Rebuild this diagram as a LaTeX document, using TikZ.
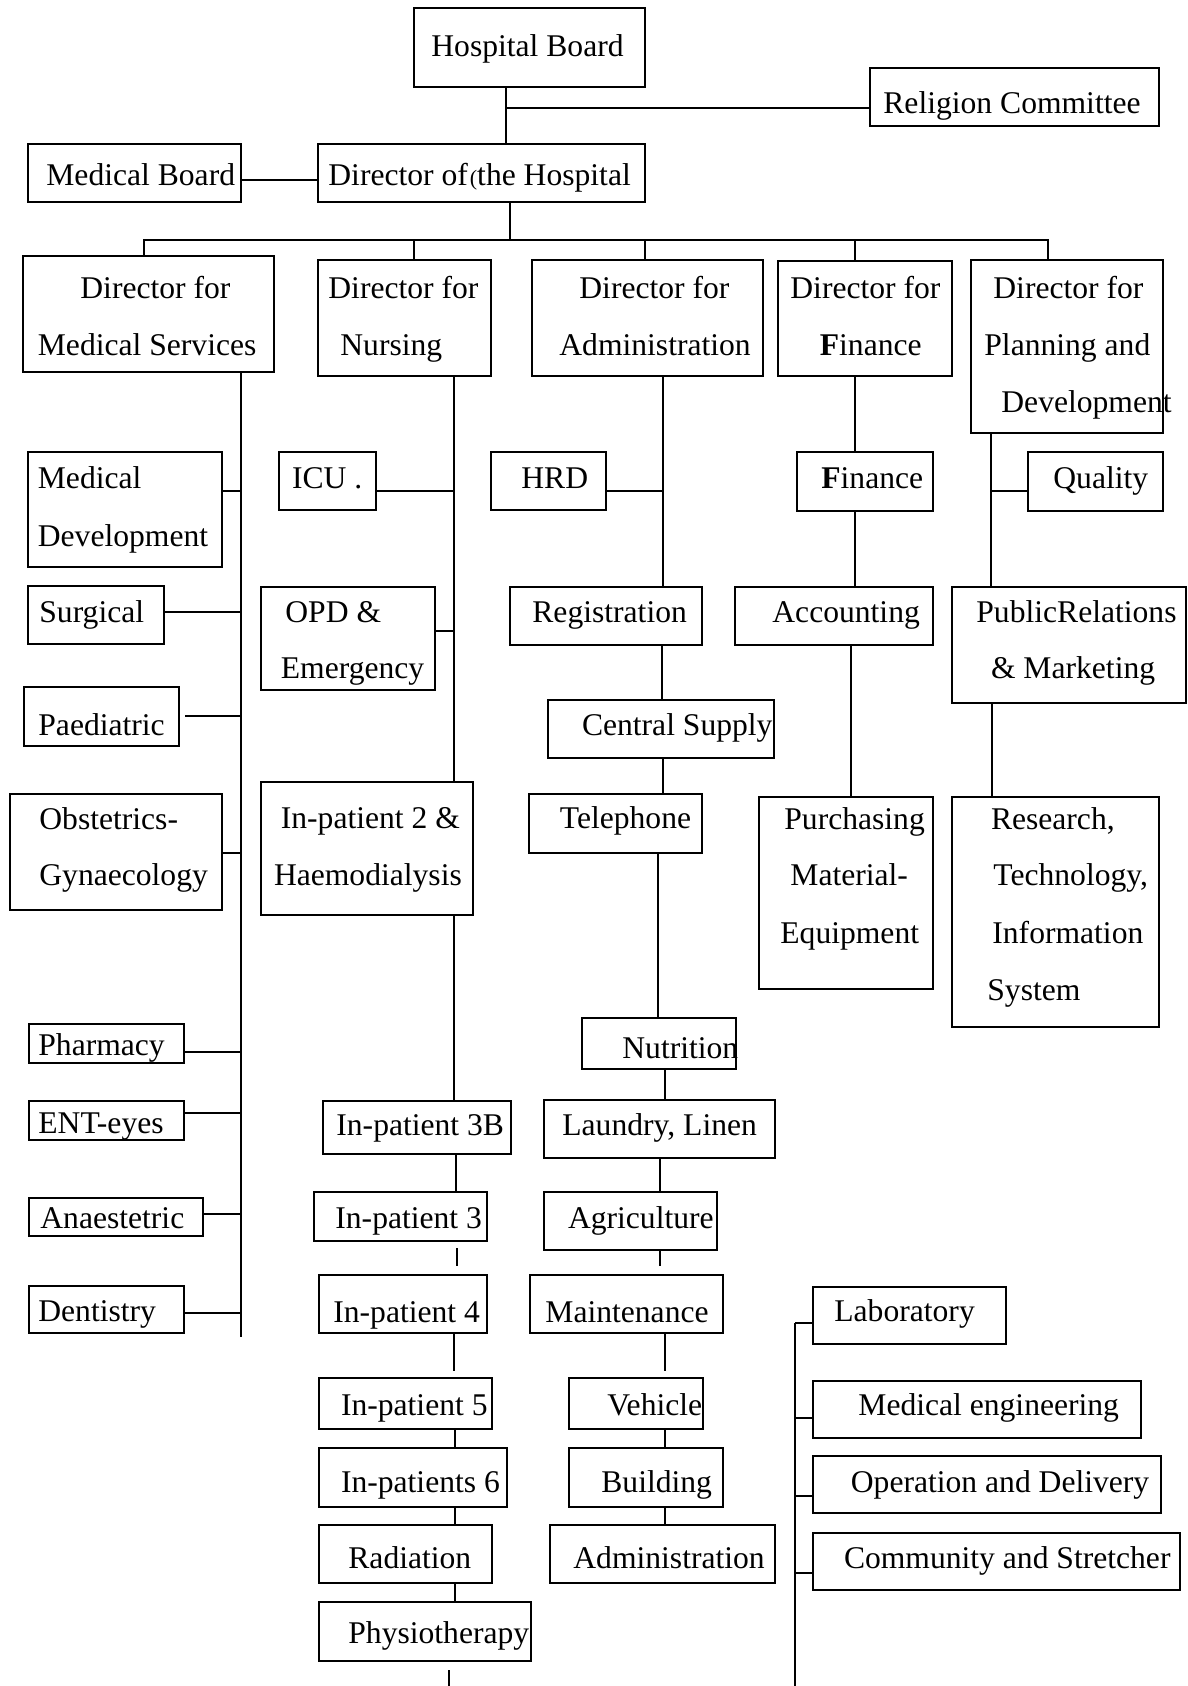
\documentclass[tikz,border=0pt]{standalone}
\usepackage{fontspec}
\setmainfont{Liberation Serif}
% \orgbox{name}{x1}{y1}{x2}{y2}: an empty framed box between two corners (units: px)
\newcommand\orgbox[5]{%
  \pgfmathsetmacro\obw{(#4-#2)*0.5}%
  \pgfmathsetmacro\obh{(#5-#3)*0.5}%
  \node[unitbox, minimum width=\obw pt, minimum height=\obh pt] (#1) at ({(#2+#4)/2},{(#3+#5)/2}) {};%
}
\begin{document}
\begin{tikzpicture}[x=0.5pt, y=-0.5pt,
  unitbox/.style={draw, line width=1.2pt, inner sep=0pt},
  lbl/.style={anchor=base west, inner sep=0pt, font=\fontsize{15.8pt}{19pt}\selectfont},
  wire/.style={line width=1.2pt}]
\useasboundingbox (0,0) rectangle (1188,1686);

% ---------- top levels ----------
\orgbox{hb}{414}{8}{645}{87}
\orgbox{rc}{870}{68}{1159}{126}
\orgbox{mb}{28}{144}{241}{202}
\orgbox{dh}{318}{144}{645}{202}
\node[lbl] (hb-t) at (431,57) {Hospital Board};
\node[lbl] (rc-t) at (883,113) {Religion Committee};
\node[lbl] (mb-t) at (46,185) {Medical Board};
\node[lbl] (dh-t) at (328,185) {Director of\hspace{1pt}{\fontsize{11pt}{11pt}\selectfont(}the Hospital};

% ---------- directors ----------
\orgbox{dms}{23}{256}{274}{372}
\orgbox{dn}{318}{260}{491}{376}
\orgbox{da}{532}{260}{763}{376}
\orgbox{df}{778}{261}{952}{376}
\orgbox{dp}{971}{260}{1163}{433}
\node[lbl] (dms-1) at (80,298) {Director for};
\node[lbl] (dms-2) at (37.5,355) {Medical Services};
\node[lbl] (dn-1) at (328,298) {Director for};
\node[lbl] (dn-2) at (340,355) {Nursing};
\node[lbl] (da-1) at (579,298) {Director for};
\node[lbl] (da-2) at (559,355) {Administration};
\node[lbl] (df-1) at (790,298) {Director for};
\node[lbl] (df-2) at (819.5,355) {\textbf{F}inance};
\node[lbl] (dp-1) at (993,298) {Director for};
\node[lbl] (dp-2) at (984,355) {Planning and};
\node[lbl] (dp-3) at (1001,412) {Development};

% ---------- medical services ----------
\orgbox{mdev}{28}{452}{222}{567}
\orgbox{surg}{28}{586}{164}{644}
\orgbox{paed}{24}{687}{179}{746}
\orgbox{obst}{10}{794}{222}{910}
\orgbox{phar}{29}{1024}{184}{1063}
\orgbox{ent}{29}{1101}{184}{1140}
\orgbox{anae}{29}{1198}{203}{1236}
\orgbox{dent}{29}{1286}{184}{1333}
\node[lbl] (mdev-1) at (37.5,488) {Medical};
\node[lbl] (mdev-2) at (37.5,546) {Development};
\node[lbl] (surg-t) at (39,622) {Surgical};
\node[lbl] (paed-t) at (38,735) {Paediatric};
\node[lbl] (obst-1) at (39,829) {Obstetrics-};
\node[lbl] (obst-2) at (39,885) {Gynaecology};
\node[lbl] (phar-t) at (38,1055) {Pharmacy};
\node[lbl] (ent-t) at (38,1133) {ENT-eyes};
\node[lbl] (anae-t) at (40,1228) {Anaestetric};
\node[lbl] (dent-t) at (38,1321) {Dentistry};

% ---------- nursing ----------
\orgbox{icu}{279}{452}{376}{510}
\orgbox{opd}{261}{587}{435}{690}
\orgbox{ip2}{261}{782}{473}{915}
\orgbox{ip3b}{323}{1101}{511}{1154}
\orgbox{ip3}{314}{1192}{487}{1241}
\orgbox{ip4}{319}{1275}{487}{1333}
\orgbox{ip5}{319}{1378}{492}{1429}
\orgbox{ip6}{319}{1448}{507}{1507}
\orgbox{rad}{319}{1525}{492}{1583}
\orgbox{phys}{319}{1602}{531}{1661}
\node[lbl] (icu-t) at (291.6,488) {ICU .};
\node[lbl] (opd-1) at (285,622) {OPD \&};
\node[lbl] (opd-2) at (280.5,678) {Emergency};
\node[lbl] (ip2-1) at (280.5,828) {In-patient 2 \&};
\node[lbl] (ip2-2) at (273.6,885) {Haemodialysis};
\node[lbl] (ip3b-t) at (336,1135) {In-patient 3B};
\node[lbl] (ip3-t) at (335,1228) {In-patient 3};
\node[lbl] (ip4-t) at (333,1322) {In-patient 4};
\node[lbl] (ip5-t) at (340.6,1415) {In-patient 5};
\node[lbl] (ip6-t) at (340.6,1492) {In-patients 6};
\node[lbl] (rad-t) at (348,1568) {Radiation};
\node[lbl] (phys-t) at (348,1643) {Physiotherapy};

% ---------- administration ----------
\orgbox{hrd}{491}{452}{606}{510}
\orgbox{reg}{510}{587}{702}{645}
\orgbox{cs}{548}{700}{774}{758}
\orgbox{tel}{529}{794}{702}{853}
\orgbox{nut}{582}{1018}{736}{1069}
\orgbox{laun}{544}{1100}{775}{1158}
\orgbox{agri}{544}{1192}{717}{1250}
\orgbox{maint}{530}{1275}{723}{1333}
\orgbox{veh}{569}{1378}{703}{1429}
\orgbox{bld}{569}{1448}{723}{1507}
\orgbox{adm}{550}{1525}{775}{1583}
\node[lbl] (hrd-t) at (521,488) {HRD};
\node[lbl] (reg-t) at (532,622) {Registration};
\node[lbl] (cs-t) at (581.6,735) {Central Supply};
\node[lbl] (tel-t) at (559.5,828) {Telephone};
\node[lbl] (nut-t) at (622,1058) {Nutrition};
\node[lbl] (laun-t) at (562,1135) {Laundry, Linen};
\node[lbl] (agri-t) at (567.6,1228) {Agriculture};
\node[lbl] (maint-t) at (545,1322) {Maintenance};
\node[lbl] (veh-t) at (607,1415) {Vehicle};
\node[lbl] (bld-t) at (601,1492) {Building};
\node[lbl] (adm-t) at (573,1568) {Administration};

% ---------- finance ----------
\orgbox{fin}{797}{452}{933}{511}
\orgbox{acc}{735}{587}{933}{645}
\orgbox{pur}{759}{797}{933}{989}
\node[lbl] (fin-t) at (821,488) {\textbf{F}inance};
\node[lbl] (acc-t) at (772,622) {Accounting};
\node[lbl] (pur-1) at (784,829) {Purchasing};
\node[lbl] (pur-2) at (790,885) {Material-};
\node[lbl] (pur-3) at (780,943) {Equipment};

% ---------- planning and development ----------
\orgbox{qual}{1028}{452}{1163}{511}
\orgbox{pr}{952}{587}{1186}{703}
\orgbox{res}{952}{797}{1159}{1027}
\node[lbl] (qual-t) at (1053,488) {Quality};
\node[lbl] (pr-1) at (976,622) {PublicRelations};
\node[lbl] (pr-2) at (990.6,678) {\& Marketing};
\node[lbl] (res-1) at (990.6,829) {Research,};
\node[lbl] (res-2) at (993,885) {Technology,};
\node[lbl] (res-3) at (992,943) {Information};
\node[lbl] (res-4) at (987,1000) {System};

% ---------- service units ----------
\orgbox{lab}{813}{1287}{1006}{1344}
\orgbox{meng}{813}{1381}{1141}{1438}
\orgbox{opdl}{813}{1456}{1161}{1513}
\orgbox{comm}{813}{1533}{1180}{1590}
\node[lbl] (lab-t) at (834,1321) {Laboratory};
\node[lbl] (meng-t) at (858,1415) {Medical engineering};
\node[lbl] (opdl-t) at (850.5,1492) {Operation and Delivery};
\node[lbl] (comm-t) at (843.6,1568) {Community and Stretcher};

% ---------- junctions and free ends ----------
\coordinate (jrc) at (506,108);
\coordinate (jdh) at (510,240);
\coordinate (busl) at (144,240);
\coordinate (busr) at (1048,240);
\coordinate (msend) at (241,1337);
\coordinate (physend) at (449,1686);
\coordinate (labtop) at (795,1323);
\coordinate (labend) at (795,1686);

% ---------- connectors ----------
\begin{scope}[wire]
% board level
\draw (506,0 |- hb.south) -- (506,0 |- dh.north);
\draw (jrc) -- (rc.west |- jrc);
\draw (mb.east |- 0,180) -- (dh.west |- 0,180);
\draw (510,0 |- dh.south) -- (jdh);
% directors bus
\draw (144,0 |- dms.north) -- (busl) -- (busr) -- (1048,0 |- dp.north);
\draw (414,240) -- (414,0 |- dn.north);
\draw (645,240) -- (645,0 |- da.north);
\draw (855,240) -- (855,0 |- df.north);
% medical services
\draw (241,0 |- dms.south) -- (msend);
\draw (mdev.east |- 0,491) -- (241,491);
\draw (surg.east |- 0,612) -- (241,612);
\draw ([xshift=2.5pt]paed.east |- 0,716) -- (241,716);
\draw (obst.east |- 0,853) -- (241,853);
\draw (phar.east |- 0,1052) -- (241,1052);
\draw (ent.east |- 0,1113) -- (241,1113);
\draw (anae.east |- 0,1214) -- (241,1214);
\draw (dent.east |- 0,1313) -- (241,1313);
% nursing
\draw (454,0 |- dn.south) -- (454,0 |- ip2.north);
\draw (icu.east |- 0,491) -- (454,491);
\draw (opd.east |- 0,631) -- (454,631);
\draw (454,0 |- ip2.south) -- (454,0 |- ip3b.north);
\draw (456,0 |- ip3b.south) -- (456,0 |- ip3.north);
\draw[shorten <=3pt, shorten >=4pt] (457,0 |- ip3.south) -- (457,0 |- ip4.north);
\draw[shorten >=3pt] (454,0 |- ip4.south) -- (454,0 |- ip5.north);
\draw (455,0 |- ip5.south) -- (455,0 |- ip6.north);
\draw (455,0 |- ip6.south) -- (455,0 |- rad.north);
\draw (455,0 |- rad.south) -- (455,0 |- phys.north);
\draw[shorten <=4pt] (449,0 |- phys.south) -- (physend);
% administration
\draw (663,0 |- da.south) -- (663,0 |- reg.north);
\draw (hrd.east |- 0,491) -- (663,491);
\draw (662,0 |- reg.south) -- (662,0 |- cs.north);
\draw (663,0 |- cs.south) -- (663,0 |- tel.north);
\draw (658,0 |- tel.south) -- (658,0 |- nut.north);
\draw (665,0 |- nut.south) -- (665,0 |- laun.north);
\draw (660,0 |- laun.south) -- (660,0 |- agri.north);
\draw[shorten >=4pt] (660,0 |- agri.south) -- (660,0 |- maint.north);
\draw[shorten >=3pt] (665,0 |- maint.south) -- (665,0 |- veh.north);
\draw (665,0 |- veh.south) -- (665,0 |- bld.north);
\draw (665,0 |- bld.south) -- (665,0 |- adm.north);
% finance
\draw (855,0 |- df.south) -- (855,0 |- fin.north);
\draw (855,0 |- fin.south) -- (855,0 |- acc.north);
\draw (851,0 |- acc.south) -- (851,0 |- pur.north);
% planning and development
\draw (991,0 |- dp.south) -- (991,0 |- pr.north);
\draw (991,491) -- (qual.west |- 0,491);
\draw (992,0 |- pr.south) -- (992,0 |- res.north);
% service units
\draw (labtop) -- (labend);
\draw (labtop) -- (lab.west |- labtop);
\draw (795,1418) -- (meng.west |- 0,1418);
\draw (795,1496) -- (opdl.west |- 0,1496);
\draw (795,1573) -- (comm.west |- 0,1573);
\end{scope}
\end{tikzpicture}
\end{document}
